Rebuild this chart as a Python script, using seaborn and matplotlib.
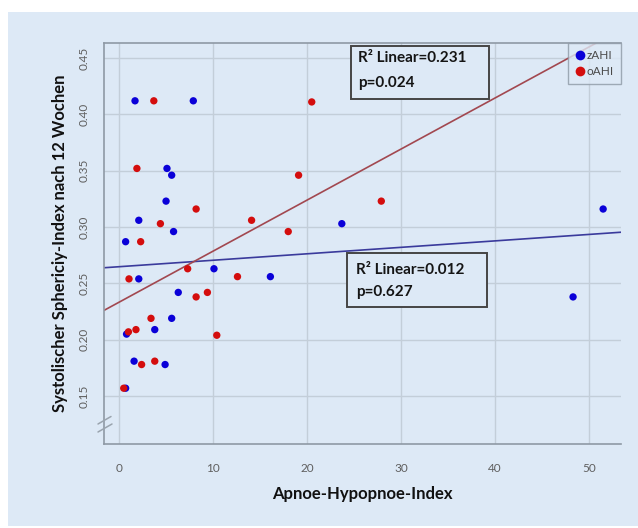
import numpy as np
import pandas as pd
import matplotlib
matplotlib.use("Agg")
import matplotlib.pyplot as plt
from matplotlib.patches import Rectangle
from matplotlib.lines import Line2D
import seaborn as sns

# ---- data ----
z_ahi_x = [1.7, 7.9, 5.1, 5.6, 5.0, 2.1, 5.8, 0.7, 10.1, 2.1, 6.3, 5.6, 3.8, 0.8,
           1.6, 4.9, 0.7, 23.7, 51.5, 16.1, 48.3]
z_ahi_y = [0.412, 0.412, 0.352, 0.346, 0.323, 0.306, 0.296, 0.287, 0.263, 0.254,
           0.242, 0.219, 0.209, 0.205, 0.181, 0.178, 0.157, 0.303, 0.316, 0.256, 0.238]
o_ahi_x = [3.7, 1.9, 8.2, 4.4, 14.1, 2.3, 7.3, 1.06, 12.6, 8.2, 9.4, 3.4, 1.8, 1.0,
           10.4, 2.4, 3.8, 0.5, 20.5, 19.1, 27.9, 18.0]
o_ahi_y = [0.412, 0.352, 0.316, 0.303, 0.306, 0.287, 0.263, 0.254, 0.256, 0.238,
           0.242, 0.219, 0.209, 0.207, 0.204, 0.178, 0.181, 0.157, 0.411, 0.346,
           0.323, 0.296]
series_names = ["zAHI", "oAHI"]
fit_intercept = {"zAHI": 0.2648, "oAHI": 0.2333}
fit_slope = {"zAHI": 0.000573, "oAHI": 0.00453}
annotations = {"oAHI": "R\u00b2 Linear=0.231\np=0.024",
               "zAHI": "R\u00b2 Linear=0.012\np=0.627"}
x_ticks = [0, 10, 20, 30, 40, 50]
y_ticks = [0.15, 0.20, 0.25, 0.30, 0.35, 0.40, 0.45]

df = pd.DataFrame({
    "x": z_ahi_x + o_ahi_x,
    "y": z_ahi_y + o_ahi_y,
    "group": ["zAHI"] * len(z_ahi_x) + ["oAHI"] * len(o_ahi_x),
})

# ---- style ----
BG = "#dde9f6"
GRID = "#c3ced9"
SPINE = "#8e99a5"
pt_colors = {"zAHI": "#0a00d8", "oAHI": "#d40d0d"}
line_colors = {"zAHI": "#3b3b9c", "oAHI": "#a24850"}

sns.set_style("white")
plt.rcParams["font.family"] = ["Lato", "DejaVu Sans"]

fig = plt.figure(figsize=(6.38, 5.28), dpi=100, facecolor="white")
fig.patches.append(Rectangle((8 / 638, 1 - 526 / 528), (638 - 8) / 638, (526 - 12) / 528,
                             transform=fig.transFigure, facecolor=BG, edgecolor="none",
                             zorder=-10))
ax = fig.add_axes([104 / 638, 1 - 444 / 528, (621 - 104) / 638, (444 - 43) / 528])
ax.set_zorder(2)
ax.set_facecolor(BG)

sns.scatterplot(data=df, x="x", y="y", hue="group", palette=pt_colors,
                hue_order=series_names, s=28, edgecolor="none", linewidth=0,
                legend=False, ax=ax, zorder=3)

ax.set_xlim(-1.6, 53.4)
ax.set_ylim(0.1075, 0.4633)

xs = np.array(ax.get_xlim())
for name in series_names:
    ax.plot(xs, fit_intercept[name] + fit_slope[name] * xs, color=line_colors[name],
            lw=1.2, zorder=2)

ax.set_xticks(x_ticks)
ax.set_xticklabels([str(t) for t in x_ticks])
ax.set_yticks(y_ticks)
ax.set_yticklabels([f"{t:.2f}" for t in y_ticks], rotation=90, va="center")
ax.tick_params(axis="both", colors=SPINE, labelcolor="#5f5f5f", labelsize=8.5,
               length=5, width=1, direction="out")
ax.tick_params(axis="x", pad=9)
ax.tick_params(axis="y", pad=5)
ax.grid(True, color=GRID, lw=1)
ax.set_axisbelow(True)
for side in ["left", "bottom", "top"]:
    ax.spines[side].set_color(SPINE)
    ax.spines[side].set_linewidth(1.2)
ax.spines["right"].set_visible(False)

ax.set_xlabel("Apnoe-Hypopnoe-Index", fontsize=12, fontweight="bold", color="#111111",
              labelpad=8)
ax.set_ylabel("Systolischer Sphericiy-Index nach 12 Wochen", fontsize=12,
              fontweight="bold", color="#111111", labelpad=8)

# annotation boxes
boxes = {"oAHI": (0.477, 0.860, 0.268, 0.133, 0.491, 0.963, 0.900),
         "zAHI": (0.470, 0.341, 0.270, 0.135, 0.487, 0.434, 0.380)}
for name in series_names:
    bx, by, bw, bh, tx, ty1, ty2 = boxes[name]
    ax.add_patch(Rectangle((bx, by), bw, bh, transform=ax.transAxes, facecolor=BG,
                           edgecolor="#454545", lw=1.4, zorder=5))
    l1, l2 = annotations[name].split("\n")
    ax.text(tx, ty1, l1, transform=ax.transAxes, fontsize=11, fontweight="bold",
            va="center", ha="left", color="#151515", zorder=6)
    ax.text(tx, ty2, l2, transform=ax.transAxes, fontsize=11, fontweight="bold",
            va="center", ha="left", color="#151515", zorder=6)

# legend
handles = [Line2D([0], [0], marker="o", ls="none", markersize=7,
                  markerfacecolor=pt_colors[n], markeredgecolor="none") for n in series_names]
leg = ax.legend(handles, series_names, loc="upper right", bbox_to_anchor=(1.0, 1.0),
                borderaxespad=0, frameon=True, fancybox=False, fontsize=8.5,
                handletextpad=0.15, handlelength=0.8, labelspacing=0.45,
                borderpad=0.6, labelcolor="#4a4a4a")
leg.get_frame().set_facecolor(BG)
leg.get_frame().set_edgecolor(SPINE)
leg.get_frame().set_linewidth(1.0)
leg.set_zorder(10)

# y-axis break marks
for (x0, y0, x1, y1) in [(98, 424, 111, 416.5), (98, 432, 112, 424)]:
    fig.add_artist(Line2D([x0 / 638, x1 / 638], [1 - y0 / 528, 1 - y1 / 528],
                          transform=fig.transFigure, color="#9aa4ae", lw=1.1, zorder=5))

fig.savefig("out.png", dpi=100, facecolor="white")
